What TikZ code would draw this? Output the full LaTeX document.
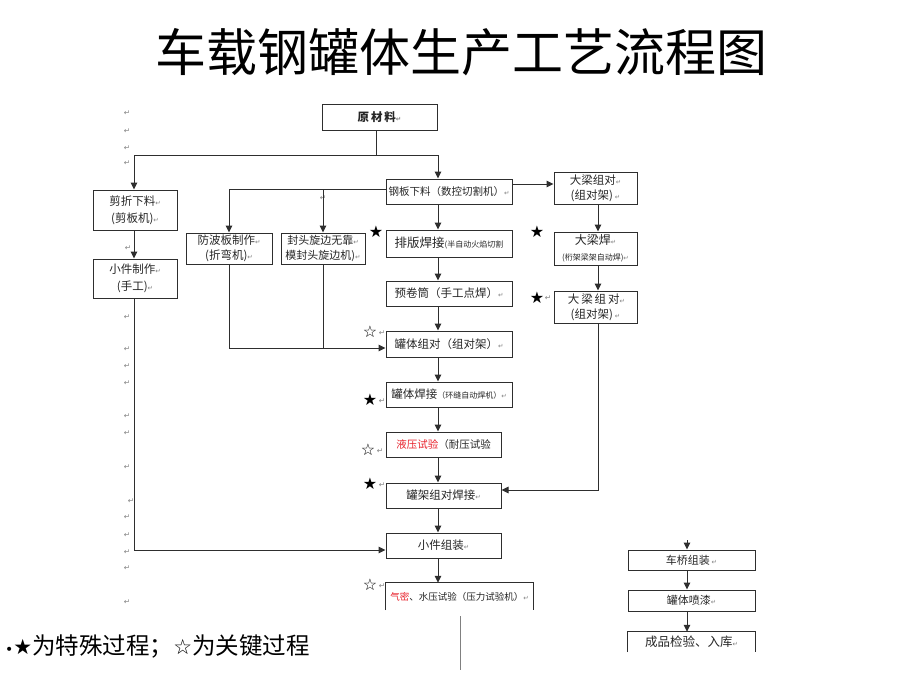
\documentclass[tikz,border=0pt]{standalone}
\usepackage{fontspec}
\setmainfont{Noto Sans CJK SC}
\newfontfamily\symf{DejaVu Sans}
\usetikzlibrary{arrows.meta}
\definecolor{lnc}{HTML}{2E2E2E}
\definecolor{rd}{HTML}{E8202A}
\newcommand\rmk{{\symf\fontsize{6.5}{6.5}\selectfont\color{gray}↵}}
\newcommand\fs[1]{\fontsize{#1}{#1}\selectfont}
\begin{document}
\begin{tikzpicture}[x=1pt,y=-1pt,
  box/.style={draw=lnc, line width=1pt, inner sep=0pt, align=center, font=\fontsize{11.5}{17}\selectfont, text=black!85},
  obox/.style={inner sep=0pt, align=center, font=\fontsize{11.5}{17}\selectfont, text=black!85},
  con/.style={draw=lnc, line width=1pt},
  arr/.style={draw=lnc, line width=1pt, -{Triangle[length=7pt,width=6.5pt]}},
  star/.style={font=\symf\fontsize{16}{16}\selectfont, inner sep=0pt},
  rt/.style={font=\symf\fontsize{7.5}{7.5}\selectfont, text=gray, inner sep=0pt}]
\fill[white] (0,0) rectangle (920,690);
\useasboundingbox (0,0) rectangle (920,690);
% title
\node (title) at (461,52) {\fs{51}车载钢罐体生产工艺流程图};
% boxes
\node[box, minimum width=115pt, minimum height=25pt] (ycl) at (379.5,117.5) {\bfseries 原\,材\,料\rmk};
\node[box, minimum width=84pt, minimum height=40pt] (jz) at (135,210) {剪折下料\rmk\\(剪板机)\rmk};
\node[box, minimum width=84pt, minimum height=39pt] (xz) at (135,278.5) {小件制作\rmk\\(手工)\rmk};
\node[box, minimum width=126pt, minimum height=25pt, font=\fs{10.5}] (gb) at (449,191.5) {钢板下料（数控切割机）\rmk};
\node[box, minimum width=86pt, minimum height=31pt, font=\fontsize{11.5}{15}\selectfont] (fbb) at (229,248.5) {防波板制作\rmk\\(折弯机)\rmk};
\node[box, minimum width=84pt, minimum height=31pt, font=\fontsize{11}{15}\selectfont] (ft) at (323,248.5) {封头旋边无靠\rmk\\模封头旋边机)\rmk};
\node[box, minimum width=126pt, minimum height=27pt] (pb) at (449,243.5) {\fs{12.5}排版焊接{\fs{8}(半自动火焰切割}};
\node[box, minimum width=126pt, minimum height=25pt] (yj) at (449,293.5) {预卷筒（手工点焊）\rmk};
\node[box, minimum width=126pt, minimum height=26pt] (gtzd) at (449,344) {罐体组对（组对架）\rmk};
\node[box, minimum width=126pt, minimum height=25pt] (gth) at (449,394.5) {罐体焊接{\fs{8}（环缝自动焊机）}\rmk};
\node[box, minimum width=115pt, minimum height=25pt, font=\fs{10.5}] (yy) at (443.5,444.5) {{\color{rd}液压试验}（耐压试验};
\node[box, minimum width=115pt, minimum height=25pt] (gj) at (443.5,495.5) {罐架组对焊接\rmk};
\node[box, minimum width=115pt, minimum height=25pt] (xzz) at (443.5,545.5) {小件组装\rmk};
\node[obox, minimum width=147pt, minimum height=27pt, font=\fs{9.5}] (qm) at (459.5,596.5) {{\color{rd}气密}、水压试验（压力试验机）\rmk};
\draw[con] (qm.south west) -- (qm.north west) -- (qm.north east) -- (qm.south east);
\node[box, minimum width=83pt, minimum height=32pt, font=\fontsize{11.5}{15}\selectfont] (dl1) at (595.5,188) {大梁组对\rmk\\(组对架)\,\rmk};
\node[box, minimum width=83pt, minimum height=33pt, font=\fontsize{12}{16}\selectfont] (dlh) at (595.5,248.5) {大梁焊\rmk\\{\fs{8}(桁架梁架自动焊)}\rmk};
\node[box, minimum width=83pt, minimum height=32pt, font=\fontsize{11.5}{15}\selectfont] (dl2) at (595.5,307) {\,大\,梁\,组\,对\rmk\\(组对架)\,\rmk};
\node[box, minimum width=127pt, minimum height=20pt, font=\fs{11}] (cq) at (691.5,560) {车桥组装\,\rmk};
\node[box, minimum width=127pt, minimum height=21pt, font=\fs{11}] (pq) at (691.5,600.5) {罐体喷漆\rmk};
\node[obox, minimum width=127pt, minimum height=20pt, font=\fs{12.5}] (cp) at (691.5,642) {成品检验、入库\rmk};
\draw[con] (cp.south west) -- (cp.north west) -- (cp.north east) -- (cp.south east);
% stars
\node[star] (s1) at (376,232) {★};
\node[star] (s2) at (537,232) {★};
\node[star] (s3) at (537,298) {★};
\node[star] (s4) at (370,332) {☆};
\node[star] (s5) at (370,400) {★};
\node[star] (s6) at (368,450) {☆};
\node[star] (s7) at (370,484) {★};
\node[star] (s8) at (370,585) {☆};
\foreach \px/\py in {548/298, 382/333, 382/401, 380/451, 382/485, 382/586}
  \node[rt] at (\px,\py) {↵};
% left paragraph marks
\foreach \yy in {113,131,148,163,317,349,366,383,416,433,467,517,535,552,568,602}
  \node[rt] at (127,\yy) {↵};
\node[rt] at (131,501) {↵};
\node[rt] at (128,248) {↵};
\node[rt] at (323,198) {↵};
% connectors
\coordinate (c1) at (376,155);
\coordinate (jL) at (134,155);
\coordinate (jR) at (438,155);
\coordinate (mx) at (438,0);
\draw[con] (ycl.south -| c1) -- (c1);
\draw[con] (jL) -- (jR);
\draw[arr] (jL) -- (jz.north -| jL);
\draw[arr] (jR) -- (gb.north -| jR);
\draw[arr] (jz.south -| jL) -- (xz.north -| jL);
\coordinate (cL) at (134,550);
\draw[arr] (xz.south -| jL) -- (cL) -- (xzz.west |- cL);
\coordinate (b1) at (229,189);
\coordinate (b2) at (323,189);
\draw[con] (gb.west |- b1) -- (b1);
\draw[arr] (b1) -- (fbb.north);
\draw[arr] (b2) -- (ft.north);
\coordinate (rA) at (512,184);
\draw[arr] (gb.east |- rA) -- (dl1.west |- rA);
\draw[arr] (gb.south -| mx) -- (pb.north -| mx);
\draw[arr] (pb.south -| mx) -- (yj.north -| mx);
\draw[arr] (yj.south -| mx) -- (gtzd.north -| mx);
\draw[arr] (gtzd.south -| mx) -- (gth.north -| mx);
\draw[arr] (gth.south -| mx) -- (yy.north -| mx);
\draw[arr] (yy.south -| mx) -- (gj.north -| mx);
\draw[arr] (gj.south -| mx) -- (xzz.north -| mx);
\draw[arr] (xzz.south -| mx) -- (qm.north -| mx);
\coordinate (m1) at (229,348);
\draw[arr] (fbb.south) -- (m1) -- (gtzd.west |- m1);
\draw[con] (ft.south) -- (ft.south |- m1);
\coordinate (rx) at (598,490);
\draw[arr] (dl1.south -| rx) -- (dlh.north -| rx);
\draw[arr] (dlh.south -| rx) -- (dl2.north -| rx);
\draw[arr] (dl2.south -| rx) -- (rx) -- (gj.east |- rx);
\coordinate (br) at (687,540);
\draw[arr] (br) -- (cq.north -| br);
\draw[arr] (cq.south -| br) -- (pq.north -| br);
\draw[arr] (pq.south -| br) -- (cp.north -| br);
\coordinate (v1) at (460,616);
\coordinate (v2) at (460,670);
\draw[con, draw=gray] (v1) -- (v2);
% legend
\node[anchor=west, inner sep=0pt] (leg) at (5,646) {{\symf\fs{14}•}{\symf\fs{21}★}{\fs{23.5}为特殊过程；}{\symf\fs{21}☆}{\fs{23.5}为关键过程}};
\end{tikzpicture}
\end{document}
